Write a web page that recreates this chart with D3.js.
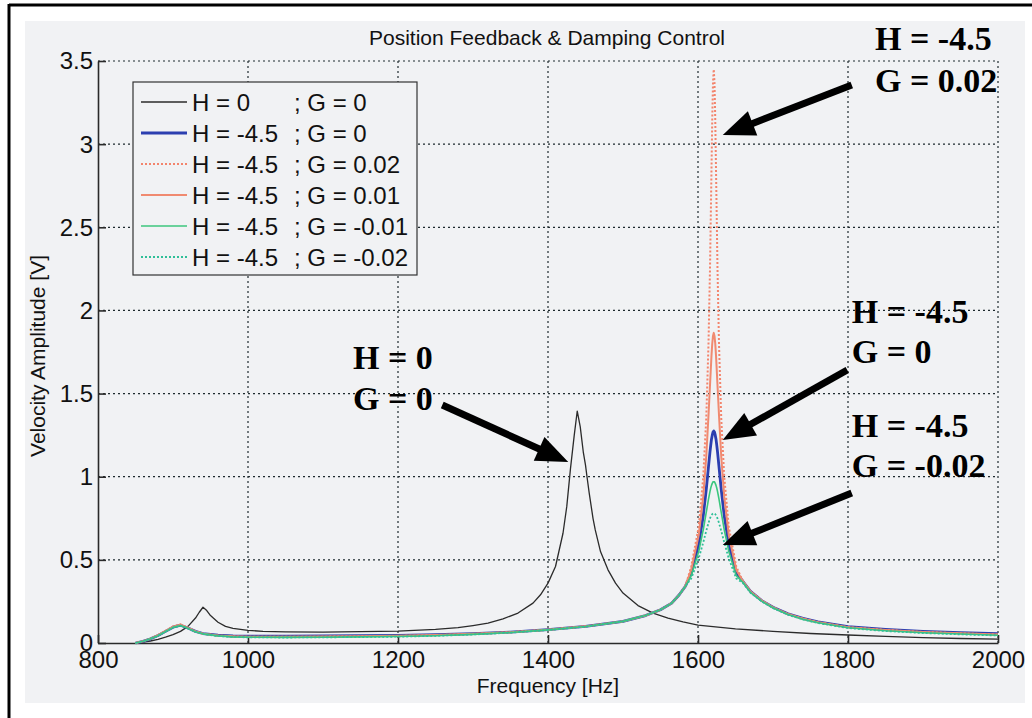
<!DOCTYPE html>
<html>
<head>
<meta charset="utf-8">
<script src="https://cdn.jsdelivr.net/npm/d3@7"></script>
<style>
  html, body { margin: 0; padding: 0; background: #ffffff; }
  svg { display: block; }
  .sans { font-family: Arial, "Liberation Sans", Helvetica, sans-serif; }
  .serif { font-family: "Liberation Serif", "Times New Roman", "DejaVu Serif", serif; font-weight: bold; }
</style>
</head>
<body>
<svg id="chart" width="1032" height="718"></svg>
<script>
// ---------------- DATA ----------------
const chartTitle = "Position Feedback & Damping Control";
const xLabel = "Frequency [Hz]";
const yLabel = "Velocity Amplitude [V]";
const xTicks = [800, 1000, 1200, 1400, 1600, 1800, 2000];
const yTicks = [0, 0.5, 1, 1.5, 2, 2.5, 3, 3.5];
const yTickLabels = ["0", "0.5", "1", "1.5", "2", "2.5", "3", "3.5"];

// H = 0 ; G = 0
const freqH0 = [850, 860, 870, 880, 890, 900, 910, 920, 930, 935, 940, 945, 950, 960, 970, 980, 1000, 1020, 1050, 1100, 1150, 1200, 1250, 1280, 1300, 1320, 1340, 1360, 1380, 1390, 1400, 1410, 1420, 1425, 1430, 1435, 1439, 1443, 1447, 1450, 1452, 1455, 1460, 1463, 1470, 1480, 1490, 1500, 1520, 1540, 1560, 1580, 1600, 1650, 1700, 1750, 1800, 1850, 1900, 1950, 2000];
const ampH0 = [0, 0.005, 0.012, 0.022, 0.035, 0.05, 0.07, 0.1, 0.15, 0.185, 0.215, 0.195, 0.165, 0.125, 0.1, 0.088, 0.076, 0.07, 0.067, 0.066, 0.068, 0.072, 0.082, 0.092, 0.105, 0.12, 0.145, 0.18, 0.24, 0.29, 0.36, 0.46, 0.66, 0.82, 1.05, 1.25, 1.395, 1.3, 1.15, 1.07, 1.0, 0.9, 0.75, 0.68, 0.55, 0.44, 0.36, 0.3, 0.225, 0.18, 0.15, 0.127, 0.108, 0.085, 0.07, 0.057, 0.048, 0.04, 0.032, 0.027, 0.023];

// H = -4.5 series share one frequency grid
const freqH45 = [850, 860, 870, 880, 890, 900, 910, 920, 930, 940, 960, 980, 1000, 1050, 1100, 1150, 1200, 1250, 1300, 1350, 1400, 1450, 1500, 1530, 1550, 1565, 1575, 1583, 1591, 1601, 1607, 1611, 1614, 1616, 1617, 1618, 1619, 1620, 1621, 1622, 1623, 1624, 1625, 1626, 1628, 1631, 1635, 1641, 1651, 1660, 1670, 1685, 1700, 1720, 1740, 1760, 1800, 1850, 1900, 1950, 2000];
const ampG0 = [0, 0.01, 0.025, 0.045, 0.07, 0.095, 0.107, 0.09, 0.07, 0.057, 0.047, 0.042, 0.041, 0.041, 0.042, 0.044, 0.046, 0.05, 0.056, 0.066, 0.081, 0.1, 0.13, 0.165, 0.2, 0.24, 0.29, 0.34, 0.421, 0.593, 0.765, 0.923, 1.06, 1.151, 1.19, 1.226, 1.25, 1.269, 1.275, 1.269, 1.25, 1.226, 1.19, 1.151, 1.06, 0.923, 0.765, 0.593, 0.421, 0.37, 0.31, 0.255, 0.215, 0.175, 0.148, 0.127, 0.098, 0.082, 0.07, 0.062, 0.056];
const ampGp002 = [0, 0.01, 0.026, 0.047, 0.073, 0.1, 0.112, 0.092, 0.07, 0.056, 0.044, 0.039, 0.037, 0.037, 0.038, 0.04, 0.042, 0.047, 0.054, 0.065, 0.08, 0.1, 0.13, 0.165, 0.2, 0.24, 0.29, 0.34, 0.46, 0.7, 1.0, 1.35, 1.8, 2.25, 2.55, 2.85, 3.15, 3.37, 3.45, 3.37, 3.15, 2.85, 2.55, 2.25, 1.8, 1.35, 1.0, 0.7, 0.46, 0.37, 0.31, 0.255, 0.214, 0.174, 0.146, 0.125, 0.095, 0.078, 0.066, 0.058, 0.051];
const ampGp001 = [0, 0.01, 0.026, 0.047, 0.072, 0.098, 0.11, 0.091, 0.07, 0.056, 0.045, 0.04, 0.038, 0.038, 0.039, 0.041, 0.043, 0.048, 0.055, 0.065, 0.08, 0.1, 0.13, 0.165, 0.2, 0.24, 0.29, 0.34, 0.44, 0.65, 0.88, 1.12, 1.37, 1.55, 1.64, 1.73, 1.8, 1.847, 1.865, 1.847, 1.8, 1.73, 1.64, 1.55, 1.37, 1.12, 0.88, 0.65, 0.44, 0.37, 0.31, 0.255, 0.214, 0.174, 0.146, 0.125, 0.095, 0.078, 0.066, 0.058, 0.051];
const ampGm001 = [0, 0.01, 0.025, 0.044, 0.069, 0.094, 0.105, 0.088, 0.068, 0.055, 0.043, 0.037, 0.035, 0.034, 0.035, 0.037, 0.039, 0.044, 0.052, 0.063, 0.079, 0.099, 0.13, 0.165, 0.2, 0.24, 0.29, 0.34, 0.405, 0.551, 0.681, 0.785, 0.865, 0.912, 0.932, 0.948, 0.96, 0.969, 0.97, 0.969, 0.96, 0.948, 0.932, 0.912, 0.865, 0.785, 0.681, 0.551, 0.405, 0.365, 0.305, 0.252, 0.212, 0.172, 0.143, 0.122, 0.092, 0.074, 0.062, 0.054, 0.047];
const ampGm002 = [0, 0.01, 0.025, 0.044, 0.068, 0.093, 0.104, 0.087, 0.067, 0.054, 0.042, 0.036, 0.034, 0.033, 0.034, 0.036, 0.038, 0.043, 0.051, 0.062, 0.078, 0.098, 0.13, 0.165, 0.2, 0.24, 0.29, 0.34, 0.388, 0.509, 0.605, 0.674, 0.722, 0.749, 0.76, 0.768, 0.775, 0.779, 0.78, 0.779, 0.775, 0.768, 0.76, 0.749, 0.722, 0.674, 0.605, 0.509, 0.388, 0.36, 0.302, 0.25, 0.21, 0.17, 0.141, 0.12, 0.09, 0.072, 0.06, 0.052, 0.045];

const legendH = ["H = 0", "H = -4.5", "H = -4.5", "H = -4.5", "H = -4.5", "H = -4.5"];
const legendG = ["; G = 0", "; G = 0", "; G = 0.02", "; G = 0.01", "; G = -0.01", "; G = -0.02"];

// annotation texts
const annoLines = [
  ["H = -4.5", "G = 0.02"],
  ["H = -4.5", "G = 0"],
  ["H = -4.5", "G = -0.02"],
  ["H = 0", "G = 0"]
];

// ---------------- LAYOUT / STYLE ----------------
const W = 1032, H = 718;
const plot = { left: 98, right: 998, top: 61, bottom: 643 };

const series = [
  { f: freqH0,  a: ampH0,    color: "#2b2b2b", width: 1.3, dash: null },
  { f: freqH45, a: ampG0,    color: "#2c3fb0", width: 2.8, dash: null },
  { f: freqH45, a: ampGp002, color: "#f3846c", width: 2.0, dash: "2,2" },
  { f: freqH45, a: ampGp001, color: "#f08a70", width: 2.0, dash: null },
  { f: freqH45, a: ampGm001, color: "#3cc67e", width: 1.6, dash: null },
  { f: freqH45, a: ampGm002, color: "#2fbf98", width: 1.8, dash: "2,2" }
];

// annotation positions in data units (frequency, amplitude)
const annoPos = [
  { text: [1836, 3.566, 3.313], tail: [1805, 3.356], tip: [1633, 3.055] },
  { text: [1805, 1.924, 1.684], tail: [1799, 1.642], tip: [1633, 1.221] },
  { text: [1805, 1.239, 0.998], tail: [1805, 0.902], tip: [1633, 0.589] },
  { text: [1140, 1.648, 1.401], tail: [1259, 1.431], tip: [1427, 1.088] }
];

const svg = d3.select("#chart");

// outer frame
svg.append("rect").attr("x", 25).attr("y", 21).attr("width", 1000).attr("height", 682).attr("fill", "#f1f2f4");
svg.append("line").attr("x1", 9).attr("x2", W).attr("y1", 5).attr("y2", 5).attr("stroke", "#000").attr("stroke-width", 3);
svg.append("line").attr("x1", 9).attr("x2", 9).attr("y1", 4).attr("y2", H).attr("stroke", "#000").attr("stroke-width", 3);

const x = d3.scaleLinear().domain([800, 2000]).range([plot.left, plot.right]);
const y = d3.scaleLinear().domain([0, 3.5]).range([plot.bottom, plot.top]);

const gridColor = "#1e2a2e";
const g = svg.append("g");
g.selectAll(".vg").data(xTicks.slice(1)).enter().append("line")
  .attr("x1", d => x(d)).attr("x2", d => x(d)).attr("y1", plot.top).attr("y2", plot.bottom)
  .attr("stroke", gridColor).attr("stroke-width", 1.2).attr("stroke-dasharray", "2,3");
g.selectAll(".hg").data(yTicks.slice(1)).enter().append("line")
  .attr("x1", plot.left).attr("x2", plot.right).attr("y1", d => y(d)).attr("y2", d => y(d))
  .attr("stroke", gridColor).attr("stroke-width", 1.2).attr("stroke-dasharray", "2,3");

// axes
const xAxis = d3.axisBottom(x).tickValues(xTicks).tickSizeInner(-8).tickSizeOuter(0).tickPadding(14).tickFormat(d3.format("d"));
const yAxis = d3.axisLeft(y).tickValues(yTicks).tickSizeInner(-8).tickSizeOuter(0).tickPadding(6).tickFormat((d, i) => yTickLabels[i]);

const gx = svg.append("g").attr("transform", `translate(0,${plot.bottom})`).call(xAxis);
const gy = svg.append("g").attr("transform", `translate(${plot.left},0)`).call(yAxis);
[gx, gy].forEach(ax => {
  ax.attr("font-family", null).attr("font-size", null).attr("class", "sans");
  ax.select(".domain").attr("stroke", "#2a2a2a").attr("stroke-width", 1.6);
  ax.selectAll(".tick line").attr("stroke", "#2a2a2a").attr("stroke-width", 1.6);
  ax.selectAll(".tick text").attr("fill", "#111").style("font-size", "24px");
});
gx.selectAll(".tick text").attr("dy", "0.71em").attr("y", 8);
gy.selectAll(".tick text").attr("x", -5).attr("dy", "0.33em");

// curves
const line = d3.line().x(d => x(d[0])).y(d => y(d[1]));
const curveG = svg.append("g");
series.forEach(s => {
  const pts = s.f.map((f, i) => [f, s.a[i]]);
  curveG.append("path").attr("d", line(pts)).attr("fill", "none")
    .attr("stroke", s.color).attr("stroke-width", s.width)
    .attr("stroke-dasharray", s.dash).attr("stroke-linejoin", "round");
});

// title & labels
svg.append("text").attr("class", "sans").attr("x", 547).attr("y", 45).attr("text-anchor", "middle")
  .style("font-size", "21px").attr("fill", "#111").text(chartTitle);
svg.append("text").attr("class", "sans").attr("x", 548).attr("y", 693).attr("text-anchor", "middle")
  .style("font-size", "21px").attr("fill", "#111").text(xLabel);
svg.append("text").attr("class", "sans").attr("transform", "translate(45,356) rotate(-90)").attr("text-anchor", "middle")
  .style("font-size", "21px").attr("fill", "#111").text(yLabel);

// legend
const leg = svg.append("g");
leg.append("rect").attr("x", 133).attr("y", 82).attr("width", 284).attr("height", 193)
  .attr("fill", "#f1f2f4").attr("stroke", "#333").attr("stroke-width", 1.2);
series.forEach((s, i) => {
  const cy = 102 + i * 31;
  leg.append("line").attr("x1", 141).attr("x2", 187).attr("y1", cy).attr("y2", cy)
    .attr("stroke", s.color).attr("stroke-width", s.width).attr("stroke-dasharray", s.dash);
  leg.append("text").attr("class", "sans").attr("x", 192).attr("y", cy + 9).style("font-size", "24px").attr("fill", "#111").text(legendH[i]);
  leg.append("text").attr("class", "sans").attr("x", 294).attr("y", cy + 9).style("font-size", "24px").attr("fill", "#111").text(legendG[i]);
});

// annotations
const ann = svg.append("g");
function arrow(x1, y1, x2, y2) {
  const ang = Math.atan2(y2 - y1, x2 - x1);
  const len = 32, hw = 13;
  const bx = x2 - len * Math.cos(ang), by = y2 - len * Math.sin(ang);
  ann.append("line").attr("x1", x1).attr("y1", y1).attr("x2", bx + 2 * Math.cos(ang)).attr("y2", by + 2 * Math.sin(ang))
    .attr("stroke", "#000").attr("stroke-width", 7);
  const p1 = [bx + hw * Math.sin(ang), by - hw * Math.cos(ang)];
  const p2 = [bx - hw * Math.sin(ang), by + hw * Math.cos(ang)];
  ann.append("polygon").attr("points", [[x2, y2], p1, p2].map(p => p.join(",")).join(" ")).attr("fill", "#000");
}
annoPos.forEach((a, i) => {
  ann.append("text").attr("class", "serif").attr("x", x(a.text[0])).attr("y", y(a.text[1]))
    .style("font-size", "34px").attr("fill", "#000").text(annoLines[i][0]);
  ann.append("text").attr("class", "serif").attr("x", x(a.text[0])).attr("y", y(a.text[2]))
    .style("font-size", "34px").attr("fill", "#000").text(annoLines[i][1]);
  arrow(x(a.tail[0]), y(a.tail[1]), x(a.tip[0]), y(a.tip[1]));
});
</script>
</body>
</html>
